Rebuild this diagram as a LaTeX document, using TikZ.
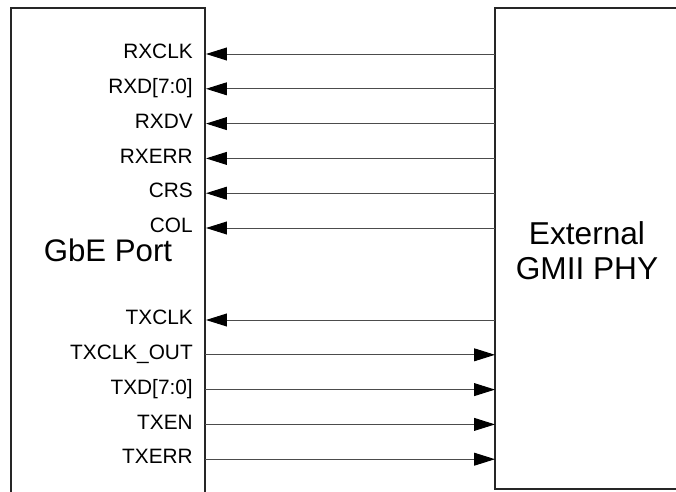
\documentclass[tikz,border=0pt]{standalone}
\usepackage{fontspec}
\setmainfont{Liberation Sans}
\usetikzlibrary{arrows.meta}
\tikzset{
  sig/.style={anchor=east, inner sep=0pt, font=\fontsize{14.8}{16}\selectfont, text height=1.5ex, text depth=0.25ex},
  wire/.style={black!70, line width=0.7pt},
  tip/.style={-{Triangle[length=5.2mm, width=3.2mm, black]}},
  edge/.style={black!85, line width=0.8pt}
}
\begin{document}
\begin{tikzpicture}
  \useasboundingbox (0,0) rectangle (16.9,-12.275);
  % GbE side (open at the bottom)
  \draw[edge] (0.275,-12.3) -- (0.275,-0.2) -- (5.125,-0.2) -- (5.125,-12.3);
  \node[font=\fontsize{22.2}{25}\selectfont] (gbe) at (2.7,-6.25) {GbE Port};
  % PHY side
  \draw[edge] (17,-0.2) -- (12.375,-0.2) -- (12.375,-12.225) -- (17,-12.225);
  \node[align=center, font=\fontsize{22.5}{24.9}\selectfont] (phy) at (14.675,-6.27) {External\\GMII PHY};
  % receive signals, PHY -> port
  \foreach \name/\txt [count=\i from 0] in {rxclk/RXCLK, rxd/{RXD[7:0]}, rxdv/RXDV, rxerr/RXERR, crs/CRS, col/COL} {
    \node[sig] (\name) at (4.825,-1.35-0.87*\i) {\txt};
    \coordinate (\name-g) at (5.15,-1.35-0.87*\i);
    \coordinate (\name-p) at (12.375,-1.35-0.87*\i);
    \draw[wire, tip] (\name-p) -- (\name-g);
  }
  \node[sig] (txclk) at (4.825,-8.0) {TXCLK};
  \coordinate (txclk-g) at (5.15,-8.0);
  \coordinate (txclk-p) at (12.375,-8.0);
  \draw[wire, tip] (txclk-p) -- (txclk-g);
  % transmit signals, port -> PHY
  \foreach \name/\txt [count=\i from 1] in {txclkout/TXCLK\_OUT, txd/{TXD[7:0]}, txen/TXEN, txerr/TXERR} {
    \node[sig] (\name) at (4.825,-8.0-0.87*\i) {\txt};
    \coordinate (\name-g) at (5.125,-8.0-0.87*\i);
    \coordinate (\name-p) at (12.375,-8.0-0.87*\i);
    \draw[wire, tip] (\name-g) -- (\name-p);
  }
\end{tikzpicture}
\end{document}
